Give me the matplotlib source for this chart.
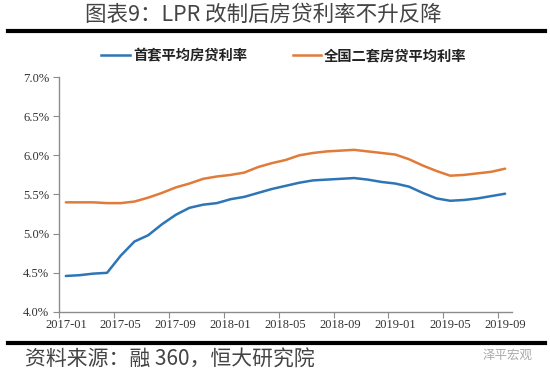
import matplotlib
matplotlib.use("Agg")
import matplotlib.pyplot as plt
from matplotlib.lines import Line2D
import numpy as np

months = ["2017-01","2017-02","2017-03","2017-04","2017-05","2017-06","2017-07","2017-08","2017-09","2017-10","2017-11","2017-12",
          "2018-01","2018-02","2018-03","2018-04","2018-05","2018-06","2018-07","2018-08","2018-09","2018-10","2018-11","2018-12",
          "2019-01","2019-02","2019-03","2019-04","2019-05","2019-06","2019-07","2019-08","2019-09"]
first_home = [4.46,4.47,4.49,4.50,4.72,4.90,4.98,5.12,5.24,5.33,5.37,5.39,
              5.44,5.47,5.52,5.57,5.61,5.65,5.68,5.69,5.70,5.71,5.69,5.66,
              5.64,5.60,5.52,5.45,5.42,5.43,5.45,5.48,5.51]
second_home = [5.40,5.40,5.40,5.39,5.39,5.41,5.46,5.52,5.59,5.64,5.70,5.73,
               5.75,5.78,5.85,5.90,5.94,6.00,6.03,6.05,6.06,6.07,6.05,6.03,
               6.01,5.95,5.87,5.80,5.74,5.75,5.77,5.79,5.83]
series_names = ["首套平均房贷利率", "全国二套房贷平均利率"]
yticks = [4.0, 4.5, 5.0, 5.5, 6.0, 6.5, 7.0]

title = "图表9：LPR 改制后房贷利率不升反降"
source = "资料来源：融 360，恒大研究院"
watermark = "泽平宏观"

cjk = ["Noto Sans CJK SC", "DejaVu Sans"]
serif = ["Liberation Serif", "DejaVu Serif"]
blue = "#2E75B6"
orange = "#E07B39"
grey = "#8C8C8C"

fig = plt.figure(figsize=(5.5, 3.79), dpi=100)
ax = fig.add_axes([59/550, 1-312/379, (512-59)/550, (312-77)/379])

x = np.arange(len(months))
ax.plot(x, first_home, color=blue, lw=1.8, solid_capstyle="round")
ax.plot(x, second_home, color=orange, lw=1.8, solid_capstyle="round")

ax.set_xlim(-0.5, len(months) - 0.5)
ax.set_ylim(4.0, 7.0)
ax.set_yticks(yticks)
ax.set_yticklabels([f"{v:.1f}%" for v in yticks], family=serif, fontsize=9, color="#333333")

# major ticks at category boundaries, labels at categories via minor ticks
ax.set_xticks(np.arange(-0.5, len(months) - 0.5, 4))
ax.set_xticklabels([])
ax.set_xticks(np.arange(0, len(months), 4), minor=True)
ax.set_xticklabels([months[i] for i in range(0, len(months), 4)], minor=True,
                   family=serif, fontsize=9, color="#333333")
ax.tick_params(axis="x", which="major", length=4, color=grey, direction="out")
ax.tick_params(axis="x", which="minor", length=0, pad=5)
ax.tick_params(axis="y", length=4, color=grey, direction="out", pad=3)

for s in ["top", "right"]:
    ax.spines[s].set_visible(False)
for s in ["left", "bottom"]:
    ax.spines[s].set_color(grey)
    ax.spines[s].set_linewidth(1.0)

# title and rules
fig.text(263/550, 1-15/379, title, ha="center", va="center", family=cjk, fontsize=15.5, color="#444444")
fig.add_artist(Line2D([8/550, 545/550], [1-31/379, 1-31/379], color="black", lw=3))
fig.add_artist(Line2D([8/550, 545/550], [1-343/379, 1-343/379], color="black", lw=3))

# legend
handles = [Line2D([], [], color=blue, lw=1.8), Line2D([], [], color=orange, lw=1.8)]
fig.legend(handles, series_names, loc="center", bbox_to_anchor=(284/550, 1-56/379), ncol=2,
           frameon=False, prop={"family": cjk, "size": 10.3, "weight": "bold"}, handlelength=2.0,
           columnspacing=3.2, handletextpad=0.2, labelcolor="#222222")

fig.text(25/550, 1-360/379, source, ha="left", va="center", family=cjk, fontsize=15,
         color="#444444")
fig.text(508/550, 1-355/379, watermark, ha="center", va="center", family=cjk, fontsize=9,
         color="#AAAAAA")

fig.savefig("out.png", dpi=100)
